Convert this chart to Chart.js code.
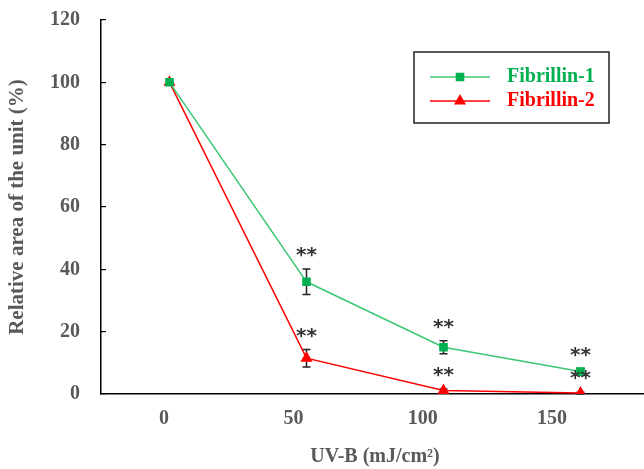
<!DOCTYPE html>
<html>
<head>
<meta charset="utf-8">
<script src="https://cdn.jsdelivr.net/npm/chart.js@4"></script>
<style>
  html, body { margin: 0; padding: 0; background: #fff; overflow: hidden; }
  #wrap { position: relative; width: 649px; height: 469px; }
</style>
</head>
<body>
<div id="wrap"><canvas id="grafico" width="649" height="469"></canvas></div>
<script>
// dados
var doses = ["0", "50", "100", "150"];
var rotulosX = [0, 50, 100, 150];
var fibrilina1 = [100, 36, 15, 7.2];
var erro1 = [0, 4.1, 2.1, 1.0];
var sig1 = ["", "**", "**", "**"];
var fibrilina2 = [100, 11.5, 1.1, 0.3];
var erro2 = [0, 2.8, 0.5, 0.3];
var sig2 = ["", "**", "**", "**"];

var corVerde = "#3cc774";
var corVerdePonto = "#00b050";
var corVermelha = "#ff0000";
var cinza = "#595959";
var fonte = "'Liberation Serif', 'Times New Roman', serif";

// barras de erro e asteriscos
var pluginErro = {
    id: 'barrasErro',
    beforeDatasetsDraw: function (chart) {
        var ctx = chart.ctx;
        var y = chart.scales.y;
        var erros = [erro1, erro2];
        ctx.save();
        ctx.strokeStyle = "#222";
        ctx.lineWidth = 1.5;
        erros.forEach(function (err, i) {
            var meta = chart.getDatasetMeta(i);
            var vals = chart.data.datasets[i].data;
            meta.data.forEach(function (pt, j) {
                if (!err[j]) return;
                var yt = y.getPixelForValue(vals[j] + err[j]);
                var yb = y.getPixelForValue(vals[j] - err[j]);
                ctx.beginPath();
                ctx.moveTo(pt.x, yt); ctx.lineTo(pt.x, yb);
                ctx.moveTo(pt.x - 4, yt); ctx.lineTo(pt.x + 4, yt);
                ctx.moveTo(pt.x - 4, yb); ctx.lineTo(pt.x + 4, yb);
                ctx.stroke();
            });
        });
        ctx.restore();
    },
    afterDatasetsDraw: function (chart) {
        var ctx = chart.ctx;
        var y = chart.scales.y;
        var sigs = [sig1, sig2];
        var erros = [erro1, erro2];
        ctx.save();
        ctx.fillStyle = "#333";
        ctx.font = "bold 20px 'DejaVu Sans'";
        ctx.textAlign = "center";
        ctx.textBaseline = "middle";
        sigs.forEach(function (s, i) {
            var meta = chart.getDatasetMeta(i);
            var vals = chart.data.datasets[i].data;
            meta.data.forEach(function (pt, j) {
                if (!s[j]) return;
                var yt = y.getPixelForValue(vals[j] + erros[i][j]);
                ctx.fillText(s[j], pt.x, yt - 13);
            });
        });
        ctx.restore();
    }
};

// legenda com moldura
var pluginLegenda = {
    id: 'legendaMoldura',
    afterDraw: function (chart) {
        var ctx = chart.ctx;
        var a = chart.chartArea;
        var x0 = a.right - 235, y0 = a.top + 32, w = 195, h = 71;
        ctx.save();
        ctx.fillStyle = "#fff";
        ctx.fillRect(x0, y0, w, h);
        ctx.strokeStyle = "#222";
        ctx.lineWidth = 1.5;
        ctx.strokeRect(x0, y0, w, h);
        chart.data.datasets.forEach(function (ds, i) {
            var yy = y0 + 25 + i * 24;
            ctx.strokeStyle = ds.borderColor;
            ctx.lineWidth = 1.5;
            ctx.beginPath();
            ctx.moveTo(x0 + 16, yy); ctx.lineTo(x0 + 76, yy);
            ctx.stroke();
            ctx.fillStyle = ds.pointBackgroundColor;
            ctx.strokeStyle = ds.pointBackgroundColor;
            Chart.helpers.drawPoint(ctx, { pointStyle: ds.pointStyle, radius: ds.pointRadius, rotation: 0, borderWidth: 1 }, x0 + 46, yy);
            ctx.fillStyle = ds.legendColor;
            ctx.font = "bold 20px " + fonte;
            ctx.textAlign = "left";
            ctx.textBaseline = "middle";
            ctx.fillText(ds.label, x0 + 93, yy);
        });
        ctx.restore();
    }
};

var contexto = document.getElementById('grafico').getContext('2d');
var grafico = new Chart(contexto, {
    type: 'line',
    data: {
        labels: doses,
        datasets: [{
            label: "Fibrillin-1",
            data: fibrilina1,
            borderColor: corVerde,
            borderWidth: 1.5,
            pointStyle: 'rect',
            pointRadius: 5,
            pointBackgroundColor: corVerdePonto,
            pointBorderColor: corVerdePonto,
            legendColor: corVerdePonto,
            tension: 0
        }, {
            label: "Fibrillin-2",
            data: fibrilina2,
            borderColor: corVermelha,
            borderWidth: 1.5,
            pointStyle: 'triangle',
            pointRadius: 5.5,
            pointBackgroundColor: corVermelha,
            pointBorderColor: corVermelha,
            legendColor: corVermelha,
            tension: 0
        }]
    },
    options: {
        responsive: false,
        animation: false,
        layout: { autoPadding: false, padding: { left: 0, right: 0, top: 20, bottom: 0 } },
        plugins: {
            legend: { display: false },
            tooltip: { enabled: false }
        },
        scales: {
            x: {
                type: 'category',
                offset: true,
                position: 'bottom',
                grid: { display: false },
                ticks: { display: false },
                border: { color: "#000", width: 1.5 },
                afterFit: function (ax) { ax.height = 0; }
            },
            xt: {
                type: 'linear',
                position: 'bottom',
                min: -24.4,
                max: 187.5,
                grid: { display: false },
                border: { display: false },
                afterBuildTicks: function (ax) {
                    ax.ticks = rotulosX.map(function (v) { return { value: v }; });
                },
                ticks: {
                    color: cinza,
                    padding: 5,
                    font: { family: fonte, size: 20, weight: 'bold' }
                },
                title: {
                    display: true,
                    text: "UV-B (mJ/cm²)",
                    color: cinza,
                    padding: { top: 0, bottom: 0 },
                    font: { family: fonte, size: 20, weight: 'bold' }
                },
                afterFit: function (ax) { ax.height = 75; }
            },
            y: {
                min: 0,
                max: 120,
                grid: {
                    display: true,
                    drawOnChartArea: false,
                    drawTicks: true,
                    tickLength: -5,
                    color: "#000",
                    lineWidth: 1.2
                },
                border: { color: "#000", width: 1.5 },
                ticks: {
                    stepSize: 20,
                    color: cinza,
                    padding: 26,
                    font: { family: fonte, size: 20, weight: 'bold' }
                },
                title: {
                    display: true,
                    text: "Relative area of the unit (%)",
                    color: cinza,
                    padding: { top: 5, bottom: 0 },
                    font: { family: fonte, size: 21, weight: 'bold' }
                },
                afterFit: function (ax) {
                    ax.width = 101;
                    ax.paddingTop = 0;
                    ax.paddingBottom = 0;
                }
            }
        }
    },
    plugins: [pluginErro, pluginLegenda]
});
</script>
</body>
</html>
